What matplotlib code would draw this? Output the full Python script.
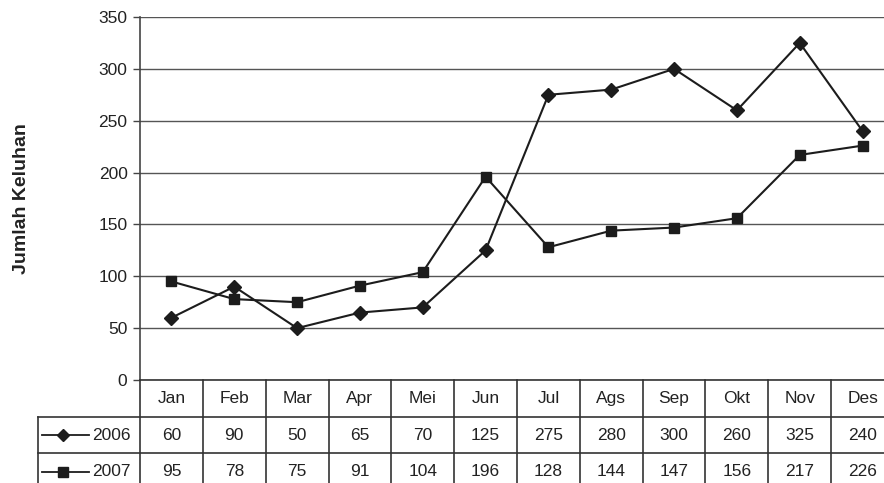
import matplotlib
matplotlib.use("Agg")
import matplotlib.pyplot as plt
import numpy as np

plt.rcParams['font.family'] = ['Liberation Sans', 'DejaVu Sans']

# data
months = ['Jan', 'Feb', 'Mar', 'Apr', 'Mei', 'Jun', 'Jul', 'Ags', 'Sep', 'Okt', 'Nov', 'Des']
keluhan_2006 = [60, 90, 50, 65, 70, 125, 275, 280, 300, 260, 325, 240]
keluhan_2007 = [95, 78, 75, 91, 104, 196, 128, 144, 147, 156, 217, 226]
series_names = ['2006', '2007']
y_ticks = [0, 50, 100, 150, 200, 250, 300, 350]

W, H = 884, 483
fig = plt.figure(figsize=(W / 100, H / 100), dpi=100)

# pixel layout (plot runs a little past the right edge, like the cropped original)
px_left, px_right = 140, 894
px_top, px_zero = 17, 380
row_h = 36.7
lab_left = 38
fs = 12.5
txt_col = '#222222'

ax = fig.add_axes([px_left / W, 1 - px_zero / H, (px_right - px_left) / W, (px_zero - px_top) / H])
x = np.arange(len(months))
line_col = '#1c1c1c'
ax.plot(x, keluhan_2006, color=line_col, lw=1.5, marker='D', ms=7.5, zorder=3, clip_on=False)
ax.plot(x, keluhan_2007, color=line_col, lw=1.5, marker='s', ms=7.5, zorder=3, clip_on=False)
ax.set_xlim(-0.5, len(months) - 0.5)
ax.set_ylim(0, 350)
ax.set_yticks(y_ticks)
ax.set_yticklabels([str(v) for v in y_ticks], fontsize=fs, color=txt_col)
ax.set_xticks([])
ax.yaxis.grid(True, color='#555555', lw=1)
ax.set_axisbelow(True)
for s in ['top', 'right', 'bottom']:
    ax.spines[s].set_visible(False)
ax.spines['left'].set_color('#444444')
ax.spines['left'].set_linewidth(1.2)
ax.tick_params(axis='y', length=5, width=1, color='#444444', pad=4)
ax.set_ylabel('Jumlah Keluhan', fontsize=14, fontweight='bold', labelpad=49, color=txt_col)
ax.patch.set_alpha(0)

# data table underneath
tab_h = 3 * row_h
tax = fig.add_axes([px_left / W, 1 - (px_zero + tab_h) / H, (px_right - px_left) / W, tab_h / H])
tax.set_xlim(-0.5, len(months) - 0.5)
tax.set_ylim(3, 0)
tax.axis('off')
col_w = (px_right - px_left) / len(months)
lab_x0 = -0.5 - (px_left - lab_left) / col_w
lc = '#333333'
# horizontal lines
tax.plot([-0.5, len(months) - 0.5], [0, 0], color=lc, lw=1.2, clip_on=False)
for r in [1, 2, 3]:
    tax.plot([lab_x0, len(months) - 0.5], [r, r], color=lc, lw=1.2, clip_on=False)
# vertical lines
for k in range(len(months) + 1):
    tax.plot([k - 0.5, k - 0.5], [0, 3], color=lc, lw=1.2, clip_on=False)
tax.plot([lab_x0, lab_x0], [1, 3], color=lc, lw=1.2, clip_on=False)

for i, m in enumerate(months):
    tax.text(i, 0.5, m, ha='center', va='center', fontsize=fs, color=txt_col)
rows = [keluhan_2006, keluhan_2007]
markers = ['D', 's']
for r, (vals, name, mk) in enumerate(zip(rows, series_names, markers)):
    yy = r + 1.5
    for i, v in enumerate(vals):
        tax.text(i, yy, str(v), ha='center', va='center', fontsize=fs, color=txt_col)
    # legend key in the label cell
    tax.plot([lab_x0 + 0.06, lab_x0 + 0.81], [yy, yy], color=line_col, lw=1.3, clip_on=False)
    tax.plot([lab_x0 + 0.40], [yy], color=line_col, marker=mk, ms=6.5, clip_on=False)
    tax.text(lab_x0 + 0.86, yy, name, ha='left', va='center', fontsize=fs, color=txt_col)

fig.savefig('out.png', dpi=100)
